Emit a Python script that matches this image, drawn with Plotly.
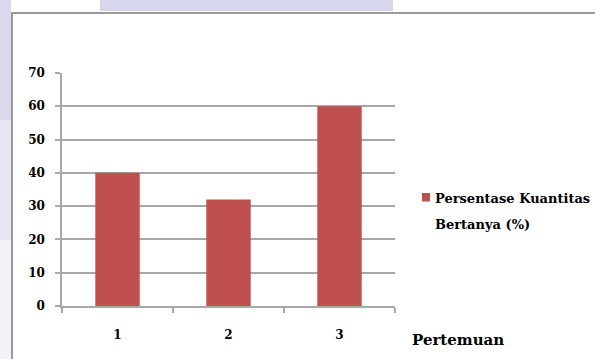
import plotly.graph_objects as go

# Data
meetings = ["1", "2", "3"]
percent_asking = [40, 32, 60]
y_ticks = [0, 10, 20, 30, 40, 50, 60, 70]
series_name = "Persentase Kuantitas Bertanya (%)"
legend_lines = ["Persentase Kuantitas", "Bertanya (%)"]
x_title = "Pertemuan"

# Figure geometry (pixels)
W, H = 595, 359
L, R, T, B = 62, 200, 73, 53
PW, PH = W - L - R, H - T - B

BAR = "#c0504d"
GRID = "#a8a8a8"
FONT = dict(family="DejaVu Serif", size=12, color="black", weight="bold")


def px(x):
    return (x - L) / PW


def py(y):
    return (H - B - y) / PH


fig = go.Figure(
    go.Bar(
        x=meetings,
        y=percent_asking,
        name=series_name,
        marker=dict(color=BAR, line=dict(width=0)),
        showlegend=False,
    )
)

shapes = [
    # page background strips around the chart frame
    dict(type="rect", xref="paper", yref="paper", layer="below",
         x0=px(-5), x1=px(11), y0=py(-5), y1=py(120),
         fillcolor="#d9d9ee", line=dict(width=0)),
    dict(type="rect", xref="paper", yref="paper", layer="below",
         x0=px(-5), x1=px(11), y0=py(120), y1=py(240),
         fillcolor="#e6e6f3", line=dict(width=0)),
    dict(type="rect", xref="paper", yref="paper", layer="below",
         x0=px(-5), x1=px(11), y0=py(240), y1=py(365),
         fillcolor="#f2f2f8", line=dict(width=0)),
    dict(type="rect", xref="paper", yref="paper", layer="below",
         x0=px(100), x1=px(393), y0=py(-5), y1=py(11),
         fillcolor="#d6d6ec", line=dict(width=0)),
    # chart frame
    dict(type="rect", xref="paper", yref="paper", layer="below",
         x0=px(12), x1=px(620), y0=py(13), y1=py(380),
         fillcolor="white", line=dict(color="#9a9a9a", width=2)),
    # legend key
    dict(type="rect", xref="paper", yref="paper",
         x0=px(422), x1=px(430), y0=py(201.5), y1=py(193),
         fillcolor=BAR, line=dict(width=0)),
]

annotations = [
    dict(text=legend_lines[0], x=px(433), y=py(198)),
    dict(text=legend_lines[1], x=px(433), y=py(224)),
    dict(text=x_title, x=px(410), y=py(340), font=dict(FONT, size=15)),
]
for a in annotations:
    a.update(xref="paper", yref="paper", xanchor="left", yanchor="middle",
             showarrow=False)
    a.setdefault("font", dict(FONT, size=13))

fig.update_layout(
    width=W, height=H,
    margin=dict(l=L, r=R, t=T, b=B, pad=0),
    paper_bgcolor="white",
    plot_bgcolor="rgba(0,0,0,0)",
    bargap=0.6,
    font=FONT,
    shapes=shapes,
    annotations=annotations,
)

fig.update_xaxes(
    type="category",
    tickson="boundaries",
    ticks="outside", ticklen=5, tickcolor=GRID, tickwidth=1.5,
    showline=True, linecolor=GRID, linewidth=1.5,
    showgrid=False,
    ticklabelstandoff=17,
    tickfont=FONT,
)
fig.update_yaxes(
    range=[0, 70],
    tickvals=y_ticks,
    ticks="outside", ticklen=5, tickcolor=GRID, tickwidth=1.5,
    showline=True, linecolor=GRID, linewidth=1.5,
    showgrid=True, gridcolor=GRID, gridwidth=1.5,
    zeroline=False,
    ticklabelstandoff=8,
    tickfont=FONT,
)

fig.write_html("out.html")
